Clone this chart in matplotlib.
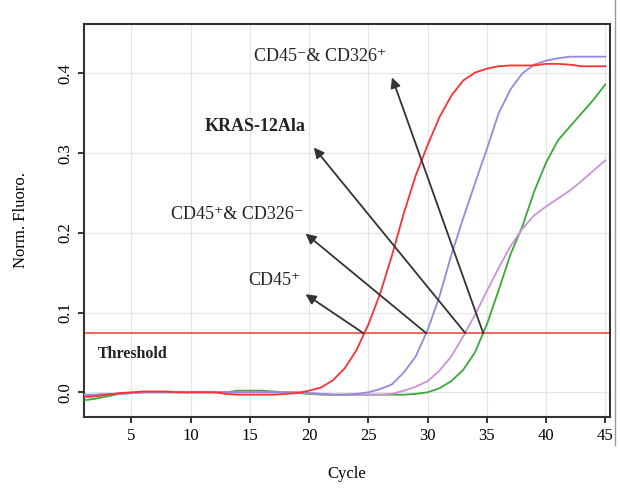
import matplotlib.pyplot as plt
from matplotlib.lines import Line2D

plt.rcParams['font.family'] = ['Liberation Serif', 'DejaVu Serif']

# amplification curves, one value per cycle (1..45)
cycles = list(range(1, 46))
red = [-0.006, -0.005, -0.003, -0.001, 0.000, 0.001, 0.001, 0.001, 0.000, 0.000,
       0.000, 0.000, -0.002, -0.003, -0.003, -0.003, -0.003, -0.002, -0.001, 0.002,
       0.006, 0.015, 0.030, 0.053, 0.085, 0.124, 0.172, 0.225, 0.272, 0.310,
       0.345, 0.372, 0.391, 0.401, 0.406, 0.409, 0.410, 0.410, 0.410, 0.412,
       0.412, 0.411, 0.409, 0.409, 0.409]
purple = [-0.004, -0.003, -0.002, -0.002, -0.001, 0.000, 0.000, 0.000, 0.000, 0.000,
          0.000, 0.000, 0.000, 0.000, 0.000, 0.000, 0.000, 0.000, 0.000, -0.001,
          -0.002, -0.003, -0.003, -0.002, 0.000, 0.004, 0.010, 0.025, 0.045, 0.078,
          0.120, 0.172, 0.218, 0.262, 0.305, 0.350, 0.380, 0.400, 0.411, 0.416,
          0.419, 0.421, 0.421, 0.421, 0.421]
plum = [-0.003, -0.003, -0.002, -0.002, -0.001, 0.000, 0.000, 0.000, 0.000, 0.000,
        0.000, 0.000, 0.000, 0.000, 0.000, 0.000, 0.000, 0.000, 0.000, -0.001,
        -0.002, -0.003, -0.003, -0.003, -0.003, -0.003, -0.002, 0.002, 0.007, 0.014,
        0.027, 0.045, 0.070, 0.097, 0.127, 0.156, 0.183, 0.205, 0.222, 0.233,
        0.243, 0.253, 0.265, 0.278, 0.291]
green = [-0.010, -0.008, -0.005, -0.002, -0.001, 0.000, 0.000, 0.000, 0.000, 0.000,
         0.000, 0.000, 0.000, 0.002, 0.002, 0.002, 0.001, 0.000, -0.001, -0.002,
         -0.003, -0.003, -0.003, -0.003, -0.003, -0.003, -0.003, -0.003, -0.002, 0.000,
         0.005, 0.014, 0.028, 0.050, 0.085, 0.128, 0.173, 0.208, 0.252, 0.288,
         0.316, 0.333, 0.350, 0.367, 0.386]

threshold = 0.074

# labels: text, text position, arrow head, arrow tail (threshold crossing cycle)
labels = ["CD45\u207a", "CD45\u207a& CD326\u207b", "KRAS-12Ala", "CD45\u207b& CD326\u207a"]
label_xy = [(17.1, 0.140), (13.9, 0.223), (15.4, 0.333), (20.9, 0.421)]
head_xy = [(19.7, 0.123), (19.7, 0.199), (20.4, 0.307), (27.0, 0.395)]
tail_cycle = [24.6, 29.9, 33.2, 34.7]

fig = plt.figure(figsize=(6.2, 4.9), dpi=100)
ax = fig.add_axes([84 / 620, 73 / 490, 526 / 620, 393 / 490])

ax.plot(cycles, green, color="#3aa83a", lw=1.3, zorder=3)
ax.plot(cycles, plum, color="#c993d6", lw=1.3, zorder=3)
ax.plot(cycles, purple, color="#9b86dc", lw=1.3, zorder=3)
ax.plot(cycles, red, color="#ff3030", lw=1.3, zorder=4)
ax.axhline(threshold, color="#f05a50", lw=1.3, zorder=2)

ax.text(2.2, 0.048, "Threshold", fontsize=11.5, fontweight="bold",
        va="center", ha="left", color="#222222")

for txt, lxy, hxy, tc in zip(labels, label_xy, head_xy, tail_cycle):
    ax.annotate("", xy=hxy, xytext=(tc, threshold),
                arrowprops=dict(arrowstyle="-|>", color="#333333", lw=1.3,
                                mutation_scale=15, shrinkA=0, shrinkB=0), zorder=5)
    ax.text(lxy[0], lxy[1], txt, fontsize=13, ha="center", va="center",
            color="#222222",
            fontweight="bold" if txt == "KRAS-12Ala" else "normal")

ax.set_xlim(1.0, 45.4)
ax.set_ylim(-0.031, 0.462)
ax.set_xticks([5, 10, 15, 20, 25, 30, 35, 40, 45])
ax.set_yticks([0.0, 0.1, 0.2, 0.3, 0.4])
ax.set_yticklabels(["0.0", "0.1", "0.2", "0.3", "0.4"], rotation=90, va="center")
ax.grid(True, color="#e4e4e4", lw=0.8)
ax.set_axisbelow(True)
ax.tick_params(direction="out", length=4, width=1.4, color="#333333",
               labelsize=12, pad=4)
for s in ax.spines.values():
    s.set_color("#333333")
    s.set_linewidth(1.5)

ax.set_xlabel("Cycle", fontsize=12, labelpad=16)
ax.set_ylabel("Norm. Fluoro.", fontsize=12, labelpad=20)

fig.add_artist(Line2D([615 / 620, 615 / 620], [45 / 490, 1.0], color="#999999", lw=1))

fig.savefig("out.png", dpi=100)
